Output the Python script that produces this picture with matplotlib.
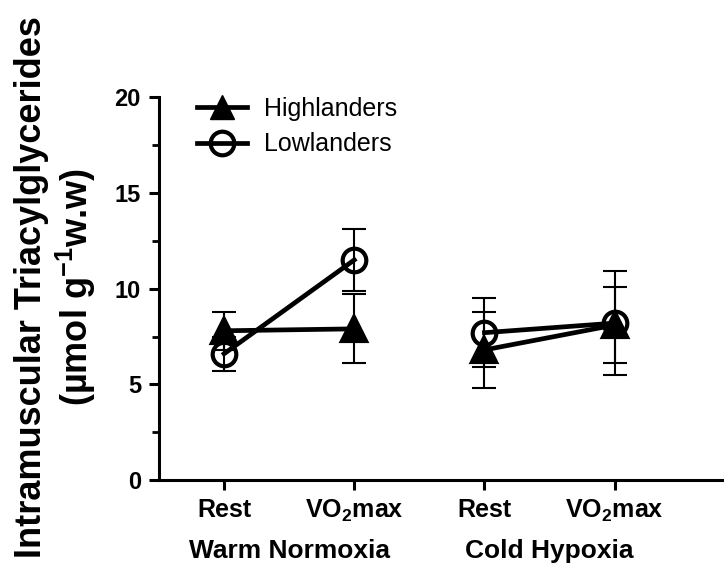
import matplotlib.pyplot as plt
from matplotlib.lines import Line2D

plt.rcParams['font.family'] = ['Liberation Sans', 'DejaVu Sans']
plt.rcParams['mathtext.fontset'] = 'custom'
plt.rcParams['mathtext.rm'] = 'Liberation Sans'
plt.rcParams['mathtext.bf'] = 'Liberation Sans:bold'

# data
positions = [1, 2, 3, 4]
tick_labels = ['Rest', r'VO$_\mathbf{2}$max', 'Rest', r'VO$_\mathbf{2}$max']
groups = ['Warm Normoxia', 'Cold Hypoxia']

high_warm = [7.8, 7.9]
high_warm_err = [1.0, 1.8]
high_cold = [6.8, 8.1]
high_cold_err = [2.0, 2.0]

low_warm = [6.6, 11.5]
low_warm_err = [0.9, 1.6]
low_cold = [7.7, 8.2]
low_cold_err = [1.8, 2.7]

fig = plt.figure(figsize=(7.24, 5.75), dpi=100)
ax = fig.add_axes([0.2196, 0.165, 0.7804, 0.666])

kw = dict(color='black', lw=3.4, elinewidth=1.5, capsize=8.5, ms=17,
          clip_on=False)


def draw(x, y, err, marker, face, z):
    c = ax.errorbar(x, y, yerr=err, marker=marker, mfc=face, mew=3.0,
                    zorder=z, **kw)
    for cap in c[1]:
        cap.set_markeredgewidth(1.5)
    return c


draw(positions[:2], high_warm, high_warm_err, '^', 'black', 3)
draw(positions[2:], high_cold, high_cold_err, '^', 'black', 3)
draw(positions[:2], low_warm, low_warm_err, 'o', 'none', 4)
draw(positions[2:], low_cold, low_cold_err, 'o', 'none', 4)

ax.set_xlim(0.5, 4.84)
ax.set_ylim(0, 20)
ax.set_yticks([0, 5, 10, 15, 20])
ax.set_yticks([2.5, 7.5, 12.5, 17.5], minor=True)
ax.set_xticks(positions)
ax.set_xticklabels(tick_labels, fontsize=18, fontweight='bold')
for t in ax.get_yticklabels():
    t.set_fontsize(17)
    t.set_fontweight('bold')

ax.spines['top'].set_visible(False)
ax.spines['right'].set_visible(False)
ax.spines['left'].set_linewidth(2.2)
ax.spines['bottom'].set_linewidth(2.2)
ax.tick_params(axis='both', which='major', length=7, width=2.2, pad=6)
ax.tick_params(axis='y', which='minor', length=5, width=2.0)

# group labels under tick labels
ax.text(1.5, -0.204, groups[0], transform=ax.get_xaxis_transform(),
        ha='center', va='baseline', fontsize=19, fontweight='bold')
ax.text(3.5, -0.204, groups[1], transform=ax.get_xaxis_transform(),
        ha='center', va='baseline', fontsize=19, fontweight='bold')

fig.text(0.044, 0.5, 'Intramuscular Triacylglycerides', rotation=90,
         ha='center', va='center', fontsize=26, fontweight='bold')
fig.text(0.105, 0.5, r'(µmol g$^{\mathbf{-1}}$w.w)', rotation=90,
         ha='center', va='center', fontsize=26, fontweight='bold')

handles = [Line2D([], [], color='black', lw=3.4, marker='^', ms=17,
                  mfc='black'),
           Line2D([], [], color='black', lw=3.4, marker='o', ms=17,
                  mfc='none', mew=3.0)]
ax.legend(handles, ['Highlanders', 'Lowlanders'], loc='upper left',
          bbox_to_anchor=(0.067, 1.0), frameon=False, fontsize=18,
          handlelength=2.0, handletextpad=0.7, labelspacing=0.45,
          borderpad=0, borderaxespad=0)

fig.savefig('out.png', dpi=100)
